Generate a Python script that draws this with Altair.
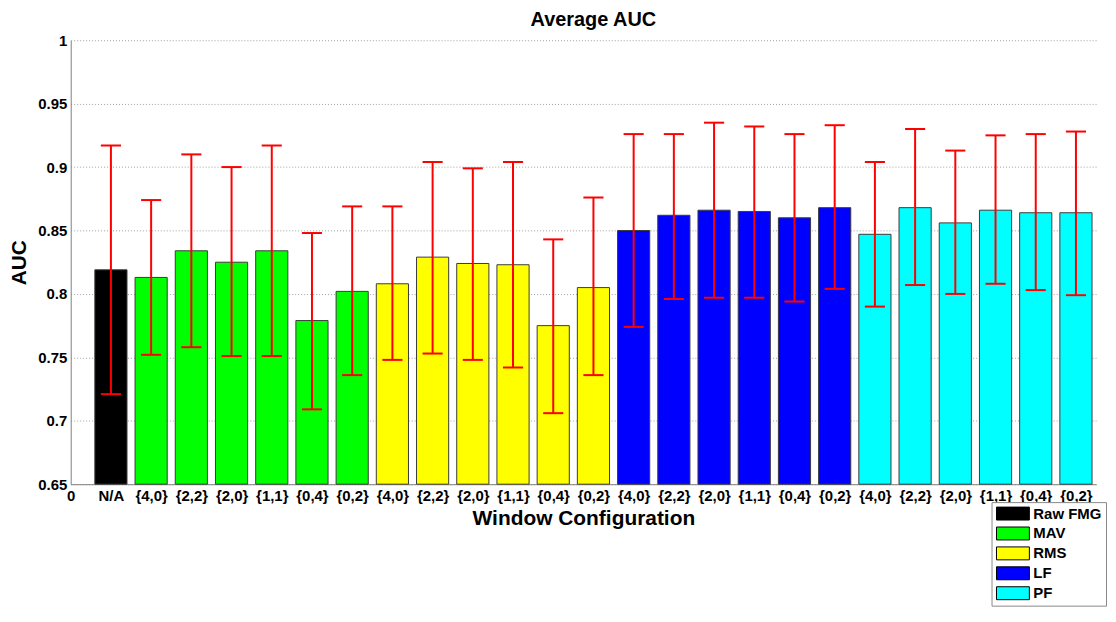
import altair as alt
import pandas as pd

# ---- data ----
config_labels = ["N/A",
                 "{4,0}", "{2,2}", "{2,0}", "{1,1}", "{0,4}", "{0,2}",
                 "{4,0}", "{2,2}", "{2,0}", "{1,1}", "{0,4}", "{0,2}",
                 "{4,0}", "{2,2}", "{2,0}", "{1,1}", "{0,4}", "{0,2}",
                 "{4,0}", "{2,2}", "{2,0}", "{1,1}", "{0,4}", "{0,2}"]
groups = ["Raw FMG"] + ["MAV"] * 6 + ["RMS"] * 6 + ["LF"] * 6 + ["PF"] * 6
auc = [0.819,
       0.813, 0.834, 0.825, 0.834, 0.779, 0.802,
       0.808, 0.829, 0.824, 0.823, 0.775, 0.805,
       0.850, 0.862, 0.866, 0.865, 0.860, 0.868,
       0.847, 0.868, 0.856, 0.866, 0.864, 0.864]
auc_hi = [0.917,
          0.874, 0.910, 0.900, 0.917, 0.848, 0.869,
          0.869, 0.904, 0.899, 0.904, 0.843, 0.876,
          0.926, 0.926, 0.935, 0.932, 0.926, 0.933,
          0.904, 0.930, 0.913, 0.925, 0.926, 0.928]
auc_lo = [0.721,
          0.752, 0.758, 0.751, 0.751, 0.709, 0.736,
          0.748, 0.753, 0.748, 0.742, 0.706, 0.736,
          0.774, 0.796, 0.797, 0.797, 0.794, 0.804,
          0.790, 0.807, 0.800, 0.808, 0.803, 0.799]
tick_labels = ["0"] + config_labels
group_names = ["Raw FMG", "MAV", "RMS", "LF", "PF"]
group_colors = ["#000000", "#00ff00", "#ffff00", "#0000ff", "#00ffff"]
y_ticks = [0.65, 0.7, 0.75, 0.8, 0.85, 0.9, 0.95, 1.0]
chart_title = ["Average AUC"]

df = pd.DataFrame({
    "pos": list(range(1, len(auc) + 1)),
    "config": config_labels,
    "group": groups,
    "auc": auc,
    "hi": auc_hi,
    "lo": auc_lo,
})

FONT = "Liberation Sans"
xscale = alt.Scale(domain=[0, 25.5], nice=False, zero=False)
yscale = alt.Scale(domain=[0.65, 1.0], nice=False, zero=False)
label_expr = "[" + ",".join("'%s'" % t for t in tick_labels) + "][datum.value]"

base = alt.Chart(df).transform_calculate(
    xl="datum.pos - 0.4", xr="datum.pos + 0.4",
    cl="datum.pos - 0.25", cr="datum.pos + 0.25",
)

bars = base.mark_bar(stroke="#3a3a3a", strokeWidth=1).encode(
    x=alt.X("xl:Q", scale=xscale,
            axis=alt.Axis(values=list(range(26)), labelExpr=label_expr,
                          title="Window Configuration", grid=False,
                          labelFlush=False, labelOverlap=False, labelBound=False,
                          labelPadding=4, titlePadding=4)),
    x2="xr:Q",
    y=alt.Y("auc:Q", scale=yscale,
            axis=alt.Axis(values=y_ticks, format="~g", title="AUC",
                          grid=True, labelPadding=4, titlePadding=8)),
    y2=alt.datum(0.65),
    color=alt.Color("group:N",
                    scale=alt.Scale(domain=group_names, range=group_colors),
                    legend=alt.Legend(title=None, orient="none",
                                      legendX=925, legendY=464,
                                      symbolType="M-2.54,-1H2.54V1H-2.54Z",
                                      symbolSize=169,
                                      symbolOffset=10,
                                      symbolStrokeColor="#000000",
                                      symbolStrokeWidth=1,
                                      symbolOpacity=1,
                                      labelFont=FONT, labelFontSize=15,
                                      labelFontWeight="bold", labelColor="#000000",
                                      labelOffset=13, rowPadding=3, padding=4,
                                      strokeColor="#888888", fillColor="#ffffff")),
)

err = base.mark_rule(color="#ff0000", strokeWidth=2).encode(
    x="pos:Q", y="lo:Q", y2="hi:Q")
cap_hi = base.mark_rule(color="#ff0000", strokeWidth=2).encode(
    x="cl:Q", x2="cr:Q", y="hi:Q")
cap_lo = base.mark_rule(color="#ff0000", strokeWidth=2).encode(
    x="cl:Q", x2="cr:Q", y="lo:Q")

title_text = alt.Chart(pd.DataFrame({"t": chart_title})).mark_text(
    font=FONT, fontSize=20, fontWeight="bold", color="#000000",
    align="center", baseline="alphabetic",
).encode(text="t:N", x=alt.value(525), y=alt.value(-14))

chart = alt.layer(bars, err, cap_hi, cap_lo, title_text).properties(
    width=1030, height=446,
    autosize=alt.AutoSizeParams(type="none"),
    padding={"left": 63, "top": 31, "right": 12, "bottom": 124},
).configure_axis(
    labelFont=FONT, labelFontSize=15, labelFontWeight="bold", labelColor="#000000",
    titleFont=FONT, titleFontSize=21, titleFontWeight="bold", titleColor="#000000",
    domainColor="#808080", domainWidth=1, ticks=False,
    gridColor="#a0a0a0", gridDash=[1, 2], gridWidth=1,
).configure_view(strokeWidth=0)

chart.save("out.html", embed_options={"renderer": "svg", "actions": False})
